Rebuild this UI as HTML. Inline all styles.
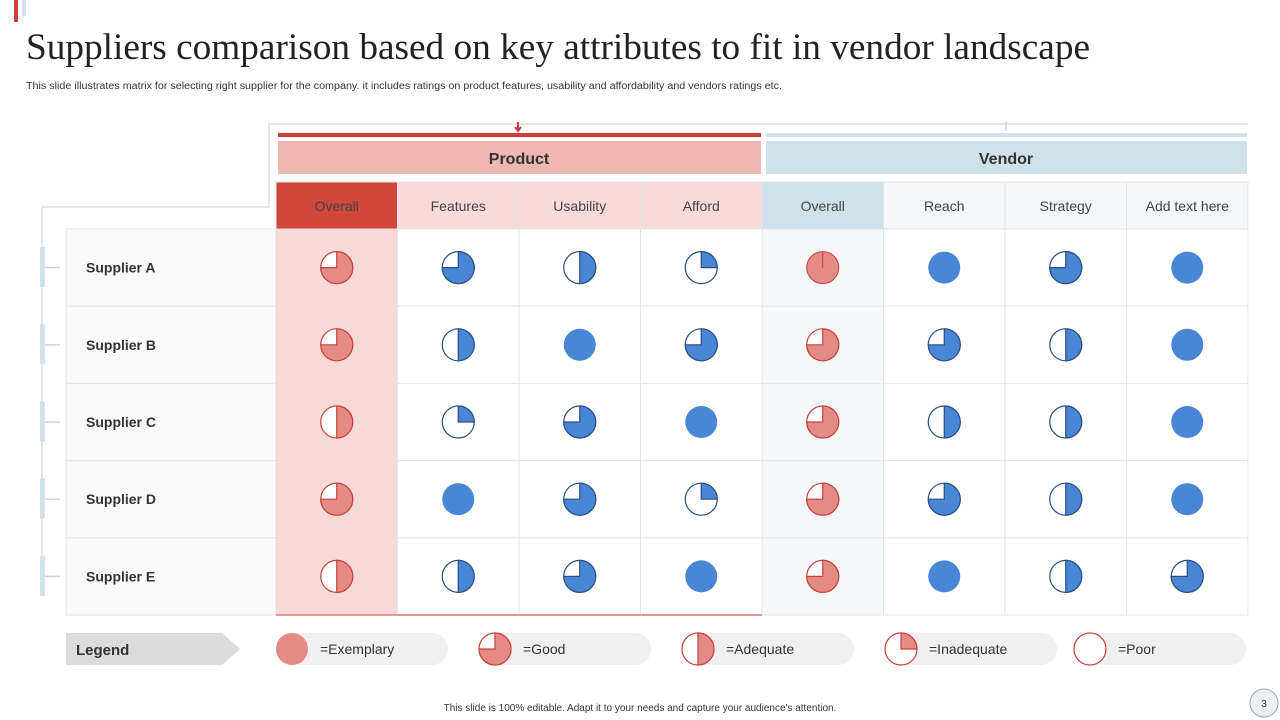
<!DOCTYPE html>
<html><head><meta charset="utf-8"><style>
html,body{margin:0;padding:0;background:#fff;width:1280px;height:720px;overflow:hidden}
svg{display:block}
text{font-family:"Liberation Sans",Arial,sans-serif}
</style></head><body>
<svg id="s" width="1280" height="720" viewBox="0 0 1280 720" xmlns="http://www.w3.org/2000/svg">
<rect x="14" y="0" width="4" height="22" fill="#c9403a"/>
<rect x="22" y="0" width="4" height="16" fill="#d6e3ec"/>
<text x="26" y="59" font-size="37" fill="#222" textLength="1064" lengthAdjust="spacingAndGlyphs" style="font-family:'Liberation Serif',serif">Suppliers comparison based on key attributes to fit in vendor landscape</text>
<text x="26" y="89" font-size="10" fill="#333" textLength="756" lengthAdjust="spacingAndGlyphs">This slide illustrates matrix for selecting right supplier for the company. it includes ratings on product features, usability and affordability and vendors ratings etc.</text>
<polyline points="1248,124 269,124 269,207 42,207 42,596" fill="none" stroke="#d8dde2" stroke-width="1.5"/>
<rect x="278" y="133" width="483" height="4" fill="#c9403a"/>
<rect x="278" y="141" width="483" height="33" fill="#efb6b2"/>
<text x="519" y="164" font-size="16" font-weight="bold" fill="#333" text-anchor="middle">Product</text>
<path d="M518 122 v8 M515 127 l3 4 l3 -4" stroke="#c9403a" stroke-width="2" fill="none"/>
<rect x="766" y="133" width="481" height="4" fill="#d3e2ea"/>
<rect x="766" y="141" width="481" height="33" fill="#cfe1ea"/>
<text x="1006" y="164" font-size="16" font-weight="bold" fill="#333" text-anchor="middle">Vendor</text>
<line x1="1006" y1="122" x2="1006" y2="131" stroke="#cfe1ea" stroke-width="2"/>
<g id="grid"></g>
<g id="legend"></g>
<text x="640" y="711" font-size="10" fill="#333" text-anchor="middle">This slide is 100% editable. Adapt it to your needs and capture your audience's attention.</text>
<circle cx="1264" cy="703" r="14" fill="#e9f0f6" stroke="#8aa9c8"/>
<text x="1264" y="707" font-size="10" fill="#333" text-anchor="middle">3</text>
</svg>
<script>
const suppliers=["Supplier A","Supplier B","Supplier C","Supplier D","Supplier E"];
const columns=["Overall","Features","Usability","Afford","Overall","Reach","Strategy","Add text here"];
const ratingsProductOverall=[0.75,0.75,0.5,0.75,0.5];
const ratingsFeatures=[0.75,0.5,0.25,1,0.5];
const ratingsUsability=[0.5,1,0.75,0.75,0.75];
const ratingsAfford=[0.25,0.75,1,0.25,1];
const ratingsVendorOverall=[1,0.75,0.75,0.75,0.75];
const ratingsReach=[1,0.75,0.5,0.75,1];
const ratingsStrategy=[0.75,0.5,0.5,0.5,0.5];
const ratingsExtra=[1,1,1,1,0.75];
const legendLabels=["=Exemplary","=Good","=Adequate","=Inadequate","=Poor"];
const legendValues=[1,0.75,0.5,0.25,0];

const series=[ratingsProductOverall,ratingsFeatures,ratingsUsability,ratingsAfford,ratingsVendorOverall,ratingsReach,ratingsStrategy,ratingsExtra];
const NS="http://www.w3.org/2000/svg";
const X0=276,CW=121.5,Y0=229,RH=77.2,HY=182;
const colX=i=>X0+i*CW, rowY=i=>Y0+i*RH;
function mk(t,a,p){const e=document.createElementNS(NS,t);for(const k in a)e.setAttribute(k,a[k]);p.appendChild(e);return e;}
const g=document.getElementById('grid');
function pie(cx,cy,r,v,fill,stroke,parent,full){
  const grp=mk('g',{},parent);
  if(v>=1){mk('circle',{cx,cy,r,fill,stroke:full?stroke:'none','stroke-width':1},grp);
    if(full)mk('line',{x1:cx,y1:cy-r,x2:cx,y2:cy,stroke,'stroke-width':1},grp);return grp;}
  mk('circle',{cx,cy,r,fill:'#fff',stroke,'stroke-width':1.2},grp);
  if(v>0){const a=v*2*Math.PI;const ex=cx+r*Math.sin(a),ey=cy-r*Math.cos(a);
    mk('path',{d:`M${cx} ${cy} L${cx} ${cy-r} A${r} ${r} 0 ${v>0.5?1:0} 1 ${ex} ${ey} Z`,fill,stroke,'stroke-width':1.2},grp);}
  return grp;
}
for(let r=0;r<suppliers.length;r++){
  const y=rowY(r);
  const rc=mk('rect',{x:66,y:y,width:210,height:RH,fill:'#fafafa',stroke:'#e3e6e8'},g);
  
  
  mk('rect',{x:40,y:y+18,width:5,height:40,fill:'#d3e2ea'},g);
  mk('line',{x1:45,y1:y+RH/2,x2:60,y2:y+RH/2,stroke:'#c8d6e0','stroke-width':1.5},g);
  const t=mk('text',{x:86,y:y+RH/2+5,'font-size':14,'font-weight':'bold',fill:'#333'},g);
  t.textContent=suppliers[r];
  
  
}
const headFill=['#d2473c','#f7dada','#f7dada','#f7dada','#cfe1ea','#f3f7fa','#f3f7fa','#f3f7fa'];
for(let c=0;c<columns.length;c++){
  const x=colX(c);
  const h=mk('rect',{x:x,y:HY,width:CW,height:Y0-HY,fill:headFill[c],stroke:'#e3e6e8'},g);
  
  
  const t=mk('text',{x:x+CW/2,y:HY+29,'font-size':14,fill:'#444','text-anchor':'middle'},g);
  t.textContent=columns[c];
  
  
  for(let r=0;r<suppliers.length;r++){
    const bg=c===0?'#f7d9d7':(c===4?'#f4f8fb':'#fff');
    const cell=mk('rect',{x:x,y:rowY(r),width:CW,height:RH,fill:bg,stroke:c===0?'#f7d9d7':'#e3e6e8'},g);
    
    
  }
}
mk('line',{x1:276,y1:rowY(5),x2:colX(4),y2:rowY(5),stroke:'#e59793','stroke-width':2},g);
for(let c=0;c<columns.length;c++){
  const red=(c===0||c===4);
  for(let r=0;r<suppliers.length;r++){
    const v=series[c][r];
    const p=pie(colX(c)+CW/2,rowY(r)+RH/2,16,v,red?'#e48b86':'#4a86d6',red?'#c9403a':'#2a4f80',g,red);
    
    
  }
}
const L=document.getElementById('legend');
const lb=mk('path',{d:'M66 633 H222 L240 649 L222 665 H66 Z',fill:'#dcdcdc'},L);


const lt=mk('text',{x:76,y:655,'font-size':15,'font-weight':'bold',fill:'#333'},L);
lt.textContent='Legend';


const legX=[276,479,682,885,1074];
for(let i=0;i<legendLabels.length;i++){
  const x=legX[i];
  const pill=mk('rect',{x:x,y:633,width:172,height:32,rx:16,fill:'#f0f0f0'},L);
  
  
  const p=pie(x+16,649,16,legendValues[i],'#e48b86','#c9403a',L,false);
  
  
  const t=mk('text',{x:x+44,y:654,'font-size':14,fill:'#333'},L);
  t.textContent=legendLabels[i];
  
  
}
</script>
</body></html>
